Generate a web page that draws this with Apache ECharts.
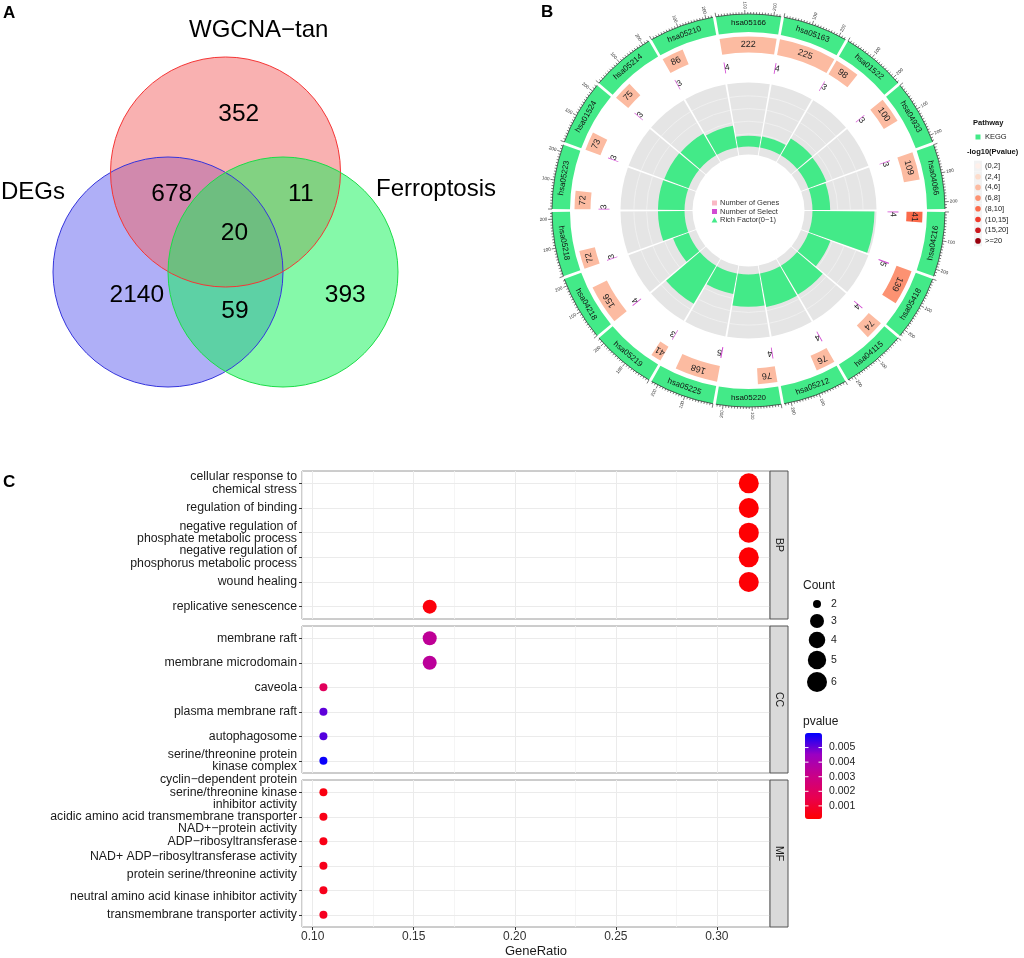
<!DOCTYPE html>
<html>
<head>
<meta charset="utf-8">
<script src="https://cdn.jsdelivr.net/npm/echarts@6.0.0/dist/echarts.min.js"></script>
<style>
html,body{margin:0;padding:0;background:#ffffff;}
#chart{width:1024px;height:958px;}
</style>
</head>
<body>
<div id="chart"></div>
<script>
// ======================= DATA =======================
// Panel A - Venn diagram
const vennSetNames = ['WGCNA−tan', 'DEGs', 'Ferroptosis'];
const vennRegionNames = ['WGCNA−tan only', 'DEGs ∩ WGCNA−tan', 'WGCNA−tan ∩ Ferroptosis', 'all three', 'DEGs only', 'DEGs ∩ Ferroptosis', 'Ferroptosis only'];
const vennRegionCounts = [352, 678, 11, 20, 2140, 59, 393];

// Panel B - KEGG circos (clockwise from top)
const keggIds = ['hsa05166','hsa05163','hsa01522','hsa04933','hsa04066','hsa04216','hsa05418','hsa04115','hsa05212','hsa05220','hsa05225','hsa05219','hsa04218','hsa05218','hsa05223','hsa01524','hsa05214','hsa05210'];
const keggGenes = [222, 225, 98, 100, 109, 41, 139, 74, 76, 76, 168, 41, 156, 72, 72, 73, 75, 86];
const keggSelect = [4, 4, 3, 3, 3, 4, 5, 4, 4, 4, 5, 3, 4, 3, 3, 3, 3, 3];
const keggRichFactor = [0.017, 0.018, 0.031, 0.030, 0.028, 0.098, 0.037, 0.053, 0.054, 0.051, 0.033, 0.070, 0.026, 0.042, 0.042, 0.041, 0.040, 0.035];
const keggLog10P = [5, 5, 5, 5, 5, 9, 7, 5, 5, 5, 5, 5, 5, 5, 5, 5, 5, 5];
const pvalueClassLabels = ['(0,2]', '(2,4]', '(4,6]', '(6,8]', '(8,10]', '(10,15]', '(15,20]', '>=20'];
const pvalueClassUpper = [2, 4, 6, 8, 10, 15, 20, Infinity];
const ideogramTickLabels = [100, 200];

// Panel C - GO dot plot
const bpTerms = ['cellular response to\nchemical stress', 'regulation of binding', 'negative regulation of\nphosphate metabolic process', 'negative regulation of\nphosphorus metabolic process', 'wound healing', 'replicative senescence'];
const bpGeneRatio = [0.3158, 0.3158, 0.3158, 0.3158, 0.3158, 0.1579];
const bpCount = [6, 6, 6, 6, 6, 3];
const bpPvalue = [0.00012, 0.00014, 0.00016, 0.00018, 0.0002, 0.0003];

const ccTerms = ['membrane raft', 'membrane microdomain', 'caveola', 'plasma membrane raft', 'autophagosome', 'serine/threonine protein\nkinase complex'];
const ccGeneRatio = [0.1579, 0.1579, 0.1053, 0.1053, 0.1053, 0.1053];
const ccCount = [3, 3, 2, 2, 2, 2];
const ccPvalue = [0.0034, 0.0035, 0.0019, 0.0051, 0.0052, 0.0059];

const mfTerms = ['cyclin−dependent protein\nserine/threonine kinase\ninhibitor activity', 'acidic amino acid transmembrane transporter', 'NAD+−protein activity\nADP−ribosyltransferase\n\n', 'NAD+ ADP−ribosyltransferase activity\n\nprotein serine/threonine activity', '\n\nneutral amino acid kinase inhibitor activity', 'transmembrane transporter activity'];
const mfGeneRatio = [0.1053, 0.1053, 0.1053, 0.1053, 0.1053, 0.1053];
const mfCount = [2, 2, 2, 2, 2, 2];
const mfPvalue = [0.0004, 0.0005, 0.0005, 0.0006, 0.0006, 0.0007];

const facetNames = ['BP', 'CC', 'MF'];
const geneRatioRange = [0.0947, 0.3263];
const geneRatioMinor = [0.125, 0.175, 0.225, 0.275, 0.325];
const countLegendValues = [2, 3, 4, 5, 6];
const pvalueRange = [0.0001, 0.006];
const pvalueTickValues = [0.005, 0.004, 0.003, 0.002, 0.001];

// ======================= LAYOUT / STYLE =======================
const FONT = "'Liberation Sans', Arial, Helvetica, sans-serif";
const TWO_PI = Math.PI * 2;
const TXT = '#1a1a1a';

// Venn geometry (pixels in the hidden 430x420 grid)
const vennCircleGeom = [[225.5, 172, 115], [168, 272, 115], [283, 272, 115]];
const vennFill = ['rgba(243,99,99,0.5)', 'rgba(95,95,239,0.5)', 'rgba(11,243,83,0.5)'];
const vennStroke = ['#F53535', '#3535DC', '#1CDC48'];
const vennDrawOrder = [1, 0, 2];
const vennRegionPos = [[238.8, 114], [171.7, 194], [300.8, 194], [234.5, 233.7], [136.8, 295], [235, 310.8], [345.3, 295]];
const vennSetLabelPos = [[258.7, 30.5, 'center'], [1, 192.5, 'left'], [376, 189.5, 'left']];

// Circos geometry
const CIRCOS_CENTER = [748.5, 210.5];
const TRACK = { ideogram: [178.5, 196.5], ticks: [196.5, 200.5], genes: [158, 174], select: [139, 150], rich: [56, 128] };
const SECTOR_X = 225, SECTOR_GAP = 10, SECTOR_SPAN = SECTOR_X + SECTOR_GAP;
const TOTAL = SECTOR_SPAN * keggIds.length;
const START_ANGLE = 100;
const RICH_RANGE = [-0.0126, 0.1012];
const RICH_GRID = [0.02, 0.04, 0.06, 0.08];
const GREEN = '#43EA88';
const SELECT_COLOR = '#D24BD2';
const PCLASS_COLORS = ['#FFF0EA', '#FDDCCB', '#FCBBA1', '#FC9272', '#FB6A4A', '#EF3B2C', '#CB181D', '#99000D'];
const TICK_STEP = 10;

// Dot plot geometry
const FACET_BOX = [{ top: 471, height: 148 }, { top: 626, height: 147 }, { top: 780, height: 147 }];
const PLOT_LEFT = 302, PLOT_RIGHT = 770, STRIP_W = 18;
const PV_COLORS = ['#FF0000', '#E80050', '#C90088', '#9A00C3', '#0000FF'];
const CB = { left: 805, top: 733, width: 17, height: 86 };

// ======================= HELPERS =======================
function ang(k, x) { return k * SECTOR_SPAN + SECTOR_GAP / 2 + x; }
function pclassColor(v) {
  for (let i = 0; i < pvalueClassUpper.length; i++) if (v <= pvalueClassUpper[i]) return PCLASS_COLORS[i];
  return PCLASS_COLORS[PCLASS_COLORS.length - 1];
}
function screenAngle(p, cx, cy) { return Math.atan2(p[1] - cy, p[0] - cx); }
function polarSector(params, api, rv0, rv1, a0, a1, style) {
  const cx = params.coordSys.cx, cy = params.coordSys.cy;
  const p0 = api.coord([rv0, a0]), p1 = api.coord([rv1, a1]);
  const ra = Math.hypot(p0[0] - cx, p0[1] - cy), rb = Math.hypot(p1[0] - cx, p1[1] - cy);
  let s = screenAngle(p0, cx, cy), e = screenAngle(p1, cx, cy);
  if (e < s) e += TWO_PI;
  return { type: 'sector', shape: { cx, cy, r0: Math.min(ra, rb), r: Math.max(ra, rb), startAngle: s, endAngle: e, clockwise: true }, style };
}
function polarArc(params, api, rv, a0, a1, style) {
  const cx = params.coordSys.cx, cy = params.coordSys.cy;
  const p0 = api.coord([rv, a0]), p1 = api.coord([rv, a1]);
  const r = Math.hypot(p0[0] - cx, p0[1] - cy);
  let s = screenAngle(p0, cx, cy), e = screenAngle(p1, cx, cy);
  if (e < s) e += TWO_PI;
  return { type: 'arc', shape: { cx, cy, r, startAngle: s, endAngle: e, clockwise: true }, style: Object.assign({ fill: 'none' }, style) };
}
function polarLine(params, api, rv0, rv1, a, style) {
  const p0 = api.coord([rv0, a]), p1 = api.coord([rv1, a]);
  return { type: 'line', shape: { x1: p0[0], y1: p0[1], x2: p1[0], y2: p1[1] }, style };
}
function polarText(params, api, rv, a, text, opts) {
  const cx = params.coordSys.cx, cy = params.coordSys.cy;
  const p = api.coord([rv, a]);
  let compass = screenAngle(p, cx, cy) + Math.PI / 2;
  compass = ((compass % TWO_PI) + TWO_PI) % TWO_PI;
  let rot;
  if (opts.radial) {
    rot = Math.PI / 2 - compass;
    if (compass > Math.PI) rot += Math.PI;
  } else {
    rot = -compass;
    if (opts.niceFacing && compass > Math.PI / 2 && compass < 1.5 * Math.PI) rot += Math.PI;
  }
  return { type: 'text', x: p[0], y: p[1], rotation: rot,
    style: { text, fontSize: opts.size, fontFamily: FONT, fill: opts.color || TXT, align: 'center', verticalAlign: 'middle' } };
}
function countSize(c) { return 8 + 12 * Math.sqrt((c - 2) / 4); }
function termLabel(s) {
  return s.split('\n').map(l => l === '' ? '{s| }' : '{t|' + l + '}').join('\n');
}
function gtext(x, y, text, o) {
  o = o || {};
  return { type: 'text', x, y, rotation: o.rotation || 0, z: 20, silent: true,
    style: { text, fontSize: o.size || 12, fontWeight: o.weight || 'normal', fontFamily: FONT, fill: o.color || TXT,
      align: o.align || 'left', verticalAlign: o.va || 'middle' } };
}

// ======================= OPTION =======================
const grid = [], xAxis = [], yAxis = [], series = [];

// ---- Panel A ----
grid.push({ left: 0, top: 0, width: 430, height: 420, show: false, outerBoundsMode: 'none', containLabel: false });
xAxis.push({ gridIndex: 0, type: 'value', min: 0, max: 430, show: false });
yAxis.push({ gridIndex: 0, type: 'value', min: 0, max: 420, inverse: true, show: false });

const vennCircleData = vennDrawOrder.map(i => [vennCircleGeom[i][0], vennCircleGeom[i][1], vennCircleGeom[i][2], i]);
// fills
series.push({
  type: 'custom', coordinateSystem: 'cartesian2d', xAxisIndex: 0, yAxisIndex: 0, silent: true, z: 2,
  data: vennCircleData,
  renderItem(params, api) {
    const c = api.coord([api.value(0), api.value(1)]);
    const s = api.size([api.value(2), api.value(2)], [api.value(0), api.value(1)]);
    const i = api.value(3);
    return { type: 'circle', shape: { cx: c[0], cy: c[1], r: s[0] }, style: { fill: vennFill[i] } };
  }
});
// outlines on top of all fills
series.push({
  type: 'custom', coordinateSystem: 'cartesian2d', xAxisIndex: 0, yAxisIndex: 0, silent: true, z: 3,
  data: vennCircleData,
  renderItem(params, api) {
    const c = api.coord([api.value(0), api.value(1)]);
    const s = api.size([api.value(2), api.value(2)], [api.value(0), api.value(1)]);
    const i = api.value(3);
    return { type: 'circle', shape: { cx: c[0], cy: c[1], r: s[0] }, style: { fill: 'none', stroke: vennStroke[i], lineWidth: 1 } };
  }
});
series.push({
  type: 'custom', coordinateSystem: 'cartesian2d', xAxisIndex: 0, yAxisIndex: 0, silent: true, z: 4,
  data: vennRegionCounts.map((v, i) => [vennRegionPos[i][0], vennRegionPos[i][1], v]),
  renderItem(params, api) {
    const c = api.coord([api.value(0), api.value(1)]);
    return { type: 'text', x: c[0], y: c[1], style: { text: String(api.value(2)), fontSize: 24.5, fontFamily: FONT, fill: '#000', align: 'center', verticalAlign: 'middle' } };
  }
});
series.push({
  type: 'custom', coordinateSystem: 'cartesian2d', xAxisIndex: 0, yAxisIndex: 0, silent: true, z: 4,
  data: vennSetNames.map((n, i) => [vennSetLabelPos[i][0], vennSetLabelPos[i][1]]),
  renderItem(params, api) {
    const i = params.dataIndex;
    const c = api.coord([api.value(0), api.value(1)]);
    return { type: 'text', x: c[0], y: c[1], style: { text: vennSetNames[i], fontSize: 24, fontFamily: FONT, fill: '#000', align: vennSetLabelPos[i][2], verticalAlign: 'middle' } };
  }
});

// ---- Panel B ----
const trackNames = ['ideogram', 'ticks', 'genes', 'select', 'rich'];
const polar = trackNames.map(n => ({ center: CIRCOS_CENTER, radius: TRACK[n] }));
const angleAxis = trackNames.map((n, i) => ({ polarIndex: i, type: 'value', min: 0, max: TOTAL, startAngle: START_ANGLE, clockwise: true, show: false,
  axisLine: { show: false }, axisTick: { show: false }, axisLabel: { show: false }, splitLine: { show: false } }));
const radiusAxis = trackNames.map((n, i) => ({ polarIndex: i, type: 'value', min: n === 'rich' ? RICH_RANGE[0] : 0, max: n === 'rich' ? RICH_RANGE[1] : 1, show: false,
  axisLine: { show: false }, axisTick: { show: false }, axisLabel: { show: false }, splitLine: { show: false } }));

// ideogram
series.push({
  type: 'custom', coordinateSystem: 'polar', polarIndex: 0, silent: true,
  data: keggIds.map((id, k) => [0.5, ang(k, SECTOR_X / 2)]),
  renderItem(params, api) {
    const k = params.dataIndex;
    return { type: 'group', children: [
      polarSector(params, api, 0, 1, ang(k, 0), ang(k, SECTOR_X), { fill: GREEN }),
      polarText(params, api, 0.5, ang(k, SECTOR_X / 2), keggIds[k], { size: 8, niceFacing: true, color: '#111' })
    ] };
  }
});
// ticks
series.push({
  type: 'custom', coordinateSystem: 'polar', polarIndex: 1, silent: true,
  data: keggIds.map((id, k) => [0, ang(k, 0)]),
  renderItem(params, api) {
    const k = params.dataIndex;
    const ch = [polarArc(params, api, 0, ang(k, 0), ang(k, SECTOR_X), { stroke: '#222', lineWidth: 0.7 })];
    for (let x = 0; x <= SECTOR_X; x += TICK_STEP) {
      const major = x % 100 === 0;
      ch.push(polarLine(params, api, 0, major ? 1 : 0.5, ang(k, x), { stroke: '#222', lineWidth: 0.6 }));
    }
    ideogramTickLabels.forEach(t => {
      ch.push(polarText(params, api, 2.2, ang(k, t), String(t), { size: 4.6, radial: true, color: '#333' }));
    });
    return { type: 'group', children: ch };
  }
});
// number of genes
series.push({
  type: 'custom', coordinateSystem: 'polar', polarIndex: 2, silent: true,
  data: keggGenes.map((g, k) => [0.5, ang(k, g / 2)]),
  renderItem(params, api) {
    const k = params.dataIndex;
    return { type: 'group', children: [
      polarSector(params, api, 0, 1, ang(k, 0), ang(k, keggGenes[k]), { fill: pclassColor(keggLog10P[k]) }),
      polarText(params, api, 0.5, ang(k, keggGenes[k] / 2), String(keggGenes[k]), { size: 9, color: '#222' })
    ] };
  }
});
// number of select
series.push({
  type: 'custom', coordinateSystem: 'polar', polarIndex: 3, silent: true,
  data: keggSelect.map((s, k) => [0.5, ang(k, s)]),
  renderItem(params, api) {
    const k = params.dataIndex;
    return { type: 'group', children: [
      polarSector(params, api, 0, 1, ang(k, 0), ang(k, keggSelect[k]), { fill: SELECT_COLOR }),
      polarText(params, api, 0.5, ang(k, keggSelect[k] + 9), String(keggSelect[k]), { size: 8.5, color: '#222' })
    ] };
  }
});
// rich factor
series.push({
  type: 'custom', coordinateSystem: 'polar', polarIndex: 4, silent: true,
  data: keggRichFactor.map((r, k) => [r, ang(k, SECTOR_X / 2)]),
  renderItem(params, api) {
    const k = params.dataIndex;
    const ch = [polarSector(params, api, RICH_RANGE[0], RICH_RANGE[1], ang(k, 0), ang(k, SECTOR_X), { fill: '#E5E5E5' })];
    RICH_GRID.forEach(v => ch.push(polarArc(params, api, v, ang(k, 0), ang(k, SECTOR_X), { stroke: '#F4F4F4', lineWidth: 0.7 })));
    ch.push(polarSector(params, api, 0, keggRichFactor[k], ang(k, 0), ang(k, SECTOR_X), { fill: GREEN }));
    return { type: 'group', children: ch };
  }
});

// ---- Panel C ----
const facets = [
  { terms: bpTerms, ratio: bpGeneRatio, count: bpCount, p: bpPvalue },
  { terms: ccTerms, ratio: ccGeneRatio, count: ccCount, p: ccPvalue },
  { terms: mfTerms, ratio: mfGeneRatio, count: mfCount, p: mfPvalue }
];
const scatterIdx = [];
facets.forEach((f, i) => {
  const gi = i + 1;
  const last = i === facets.length - 1;
  grid.push({ left: PLOT_LEFT, top: FACET_BOX[i].top, width: PLOT_RIGHT - PLOT_LEFT, height: FACET_BOX[i].height,
    show: true, borderColor: '#9a9a9a', borderWidth: 1, backgroundColor: '#fff', outerBoundsMode: 'none', containLabel: false });
  xAxis.push({ gridIndex: gi, type: 'value', min: geneRatioRange[0], max: geneRatioRange[1],
    axisLine: { show: false },
    axisTick: { show: last, length: 3, lineStyle: { color: '#333' } },
    axisLabel: { show: last, showMinLabel: false, showMaxLabel: false, margin: 4, fontSize: 12, color: '#333', fontFamily: FONT, formatter: v => v.toFixed(2) },
    splitLine: { show: true, lineStyle: { color: '#EBEBEB', width: 1 } },
    name: last ? 'GeneRatio' : '', nameLocation: 'middle', nameGap: 18,
    nameTextStyle: { fontSize: 13, color: TXT, fontFamily: FONT } });
  yAxis.push({ gridIndex: gi, type: 'category', data: f.terms, inverse: true,
    axisLine: { show: false },
    axisTick: { show: true, length: 3, alignWithLabel: true, lineStyle: { color: '#333' } },
    axisLabel: { interval: 0, margin: 5, formatter: termLabel,
      rich: { t: { fontSize: 12.3, lineHeight: 12.5, color: TXT, fontFamily: FONT }, s: { fontSize: 4, lineHeight: 6 } } },
    splitLine: { show: false } });
  // grid lines (minor verticals and horizontal lines at category centres)
  series.push({ type: 'scatter', xAxisIndex: gi, yAxisIndex: gi, data: [], silent: true, z: 1,
    markLine: { silent: true, symbol: ['none', 'none'], animation: false, label: { show: false }, z: 1,
      lineStyle: { color: '#EBEBEB', width: 1, type: 'solid' },
      emphasis: { disabled: true },
      data: geneRatioMinor.map(v => ({ xAxis: v, lineStyle: { color: '#F2F2F2', width: 0.8, type: 'solid' } }))
        .concat(f.terms.map((t, j) => ({ yAxis: j }))) } });
  scatterIdx.push(series.length);
  series.push({ type: 'scatter', xAxisIndex: gi, yAxisIndex: gi, silent: true, z: 3,
    data: f.terms.map((t, j) => [f.ratio[j], t, f.count[j], f.p[j]]),
    symbol: 'circle', symbolSize: v => countSize(v[2]), itemStyle: { opacity: 1 } });
});

// ---- graphics ----
const g = [];
g.push(gtext(3, 5, 'A', { size: 17, weight: 'bold', va: 'top', color: '#000' }));
g.push(gtext(541, 4, 'B', { size: 17, weight: 'bold', va: 'top', color: '#000' }));
g.push(gtext(3, 474, 'C', { size: 17, weight: 'bold', va: 'top', color: '#000' }));

// circos centre legend
g.push({ type: 'rect', z: 20, silent: true, shape: { x: 712, y: 200.5, width: 5, height: 5 }, style: { fill: '#F9B8C4' } });
g.push(gtext(720, 203, 'Number of Genes', { size: 7.5, color: '#333' }));
g.push({ type: 'rect', z: 20, silent: true, shape: { x: 712, y: 209, width: 5, height: 5 }, style: { fill: SELECT_COLOR } });
g.push(gtext(720, 211.5, 'Number of Select', { size: 7.5, color: '#333' }));
g.push({ type: 'polygon', z: 20, silent: true, shape: { points: [[714.5, 217.3], [717.4, 222.6], [711.6, 222.6]] }, style: { fill: GREEN } });
g.push(gtext(720, 220, 'Rich Factor(0−1)', { size: 7.5, color: '#333' }));

// circos right legend
g.push(gtext(973, 123, 'Pathway', { size: 7.5, weight: 'bold', color: '#111' }));
g.push({ type: 'rect', z: 20, silent: true, shape: { x: 975.5, y: 134.5, width: 5, height: 5 }, style: { fill: GREEN } });
g.push(gtext(985, 137, 'KEGG', { size: 7.5, color: '#222' }));
g.push(gtext(967, 152, '-log10(Pvalue)', { size: 7.5, weight: 'bold', color: '#111' }));
pvalueClassLabels.forEach((lab, i) => {
  const y = 166 + 10.7 * i;
  g.push({ type: 'rect', z: 19, silent: true, shape: { x: 974, y: y - 5.3, width: 8, height: 10.7 }, style: { fill: '#F2F2F2' } });
  g.push({ type: 'circle', z: 20, silent: true, shape: { cx: 978, cy: y, r: 2.8 }, style: { fill: PCLASS_COLORS[i] } });
  g.push(gtext(985, y, lab, { size: 7.5, color: '#222' }));
});

// facet strips
facetNames.forEach((n, i) => {
  const b = FACET_BOX[i];
  g.push({ type: 'rect', z: 20, silent: true, shape: { x: PLOT_RIGHT, y: b.top, width: STRIP_W, height: b.height }, style: { fill: '#D9D9D9', stroke: '#555', lineWidth: 1 } });
  g.push(gtext(PLOT_RIGHT + STRIP_W / 2, b.top + b.height / 2, n, { size: 10.5, align: 'center', rotation: -Math.PI / 2, color: '#1a1a1a' }));
});

// Count legend
g.push(gtext(803, 586, 'Count', { size: 12, color: TXT }));
const countLegendY = [604, 621, 640, 660, 682];
countLegendValues.forEach((c, i) => {
  g.push({ type: 'circle', z: 20, silent: true, shape: { cx: 817, cy: countLegendY[i], r: countSize(c) / 2 }, style: { fill: '#000' } });
  g.push(gtext(834, countLegendY[i], String(c), { size: 10.5, align: 'center', color: '#222' }));
});

// pvalue legend
g.push(gtext(803, 722, 'pvalue', { size: 12, color: TXT }));
pvalueTickValues.forEach(v => {
  const y = CB.top + (pvalueRange[1] - v) / (pvalueRange[1] - pvalueRange[0]) * CB.height;
  g.push({ type: 'line', z: 30, silent: true, shape: { x1: CB.left, y1: y, x2: CB.left + 3.5, y2: y }, style: { stroke: '#fff', lineWidth: 1 } });
  g.push({ type: 'line', z: 30, silent: true, shape: { x1: CB.left + CB.width - 3.5, y1: y, x2: CB.left + CB.width, y2: y }, style: { stroke: '#fff', lineWidth: 1 } });
  g.push(gtext(829, y, v.toFixed(3), { size: 10.5, color: '#222' }));
});

const option = {
  animation: false,
  backgroundColor: '#ffffff',
  textStyle: { fontFamily: FONT },
  grid, xAxis, yAxis, polar, angleAxis, radiusAxis, series,
  visualMap: [{
    type: 'continuous', seriesIndex: scatterIdx, dimension: 3,
    min: pvalueRange[0], max: pvalueRange[1],
    inRange: { color: PV_COLORS },
    left: CB.left, top: CB.top, itemWidth: CB.width, itemHeight: CB.height,
    calculable: false, hoverLink: false, padding: 0, showLabel: false
  }],
  graphic: { elements: g }
};

const chart = echarts.init(document.getElementById('chart'), null, { renderer: 'canvas' });
chart.setOption(option);
</script>
</body>
</html>
